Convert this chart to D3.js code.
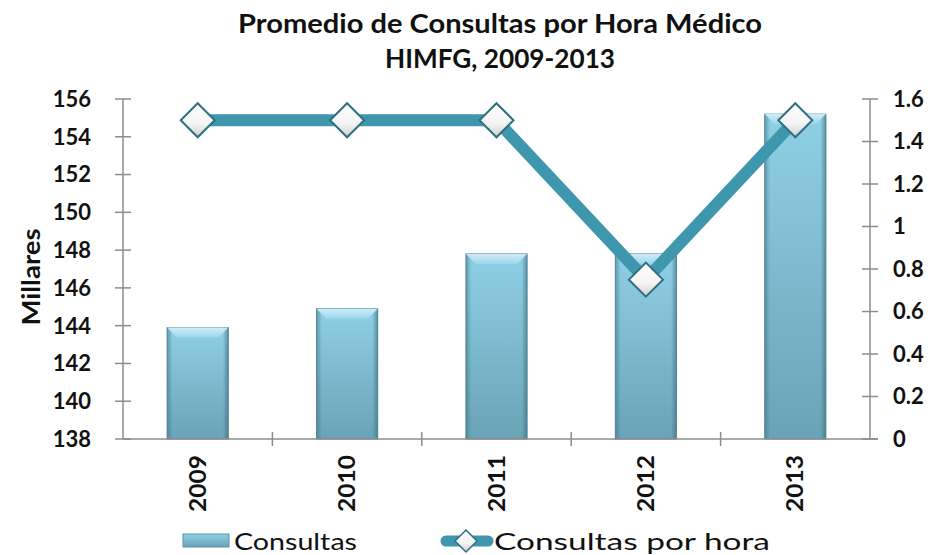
<!DOCTYPE html>
<html><head><meta charset="utf-8">
<script src="https://cdn.jsdelivr.net/npm/d3@7"></script>
<style>body{margin:0;background:#fff}svg{display:block}</style>
</head><body>
<svg id="c" width="937" height="555"></svg>
<script>
const categories = ["2009","2010","2011","2012","2013"];
const consultas = [143.9, 144.9, 147.8, 147.8, 155.2];
const porHora = [1.5, 1.5, 1.5, 0.75, 1.5];
const leftTicks = [138,140,142,144,146,148,150,152,154,156];
const rightTicks = [0,0.2,0.4,0.6,0.8,1,1.2,1.4,1.6];
const titleLines = ["Promedio de Consultas por Hora Médico","HIMFG, 2009-2013"];
const legendLabels = ["Consultas","Consultas por hora"];

const svg = d3.select("#c");
const FONT = "Lato, 'DejaVu Sans', sans-serif";
const L = 123, R = 870, T = 99, B = 439;
const x = d3.scaleBand().domain(categories).range([L, R]).paddingInner(0.59).paddingOuter(0.295);
const xb = d3.scaleBand().domain(categories).range([L, R]);
const yL = d3.scaleLinear().domain([138,156]).range([B, T]);
const yR = d3.scaleLinear().domain([0,1.6]).range([B, T]);

const defs = svg.append("defs");
const g1 = defs.append("linearGradient").attr("id","barG").attr("x1",0).attr("y1",0).attr("x2",0).attr("y2",1);
g1.append("stop").attr("offset","0%").attr("stop-color","#8fd0e6");
g1.append("stop").attr("offset","100%").attr("stop-color","#6aa3b6");
const g2 = defs.append("linearGradient").attr("id","edgeG").attr("x1",0).attr("y1",0).attr("x2",1).attr("y2",0);
g2.append("stop").attr("offset","0%").attr("stop-color","#3f6f80").attr("stop-opacity",0.55);
g2.append("stop").attr("offset","9%").attr("stop-color","#3f6f80").attr("stop-opacity",0);
g2.append("stop").attr("offset","91%").attr("stop-color","#3f6f80").attr("stop-opacity",0);
g2.append("stop").attr("offset","100%").attr("stop-color","#3f6f80").attr("stop-opacity",0.65);
const g3 = defs.append("linearGradient").attr("id","topG").attr("x1",0).attr("y1",0).attr("x2",0).attr("y2",1);
g3.append("stop").attr("offset","0%").attr("stop-color","#d8f1fa");
g3.append("stop").attr("offset","100%").attr("stop-color","#9ad8ec");
const g4 = defs.append("linearGradient").attr("id","mkG").attr("x1",0).attr("y1",0).attr("x2",0).attr("y2",1);
g4.append("stop").attr("offset","0%").attr("stop-color","#ffffff");
g4.append("stop").attr("offset","60%").attr("stop-color","#f4f4f4");
g4.append("stop").attr("offset","100%").attr("stop-color","#cfcfcf");

// title
const titleW = [524, 230];
svg.selectAll("text.title").data(titleLines).join("text").attr("class","title")
  .attr("x", 500).attr("y",(d,i)=>33+i*35).attr("text-anchor","middle")
  .attr("font-family",FONT).attr("font-weight","bold").attr("font-size",27).attr("fill","#111")
  .attr("textLength",(d,i)=>titleW[i]).attr("lengthAdjust","spacingAndGlyphs")
  .text(d=>d);

// bars
const bw = x.bandwidth();
const bars = svg.append("g").selectAll("g").data(categories).join("g");
bars.append("rect").attr("x",d=>x(d)).attr("width",bw)
  .attr("y",(d,i)=>yL(consultas[i])).attr("height",(d,i)=>B-yL(consultas[i]))
  .attr("fill","url(#barG)").attr("stroke","#5f93a4").attr("stroke-width",1);
bars.append("rect").attr("x",d=>x(d)).attr("width",bw)
  .attr("y",(d,i)=>yL(consultas[i])).attr("height",(d,i)=>B-yL(consultas[i]))
  .attr("fill","url(#edgeG)");
bars.append("path").attr("d",(d,i)=>{
  const x0=x(d), x1=x(d)+bw, y0=yL(consultas[i]), h=10;
  return `M${x0},${y0}L${x1},${y0}L${x1-h},${y0+h}L${x0+h},${y0+h}Z`;
}).attr("fill","url(#topG)").attr("opacity",0.9);

// axes
const axG = svg.append("g").attr("stroke","#8c8c8c").attr("stroke-width",1.5);
axG.append("line").attr("x1",L).attr("x2",L).attr("y1",T).attr("y2",B);
axG.append("line").attr("x1",R).attr("x2",R).attr("y1",T).attr("y2",B);
axG.append("line").attr("x1",L).attr("x2",R+8).attr("y1",B).attr("y2",B);
axG.selectAll("line.lt").data(leftTicks).join("line").attr("class","lt")
  .attr("x1",L-8).attr("x2",L+8).attr("y1",d=>yL(d)).attr("y2",d=>yL(d));
axG.selectAll("line.rt").data(rightTicks).join("line").attr("class","rt")
  .attr("x1",R-8).attr("x2",R+8).attr("y1",d=>yR(d)).attr("y2",d=>yR(d));
axG.selectAll("line.bt").data(categories.slice(1)).join("line").attr("class","bt")
  .attr("x1",d=>xb(d)).attr("x2",d=>xb(d)).attr("y1",B-7).attr("y2",B+7);

svg.append("g").selectAll("text").data(leftTicks).join("text")
  .attr("x",91).attr("y",d=>yL(d)).attr("dy","0.36em").attr("text-anchor","end")
  .attr("font-family",FONT).attr("font-weight","bold").attr("font-size",22).attr("fill","#111")
  .text(d=>d);
svg.append("g").selectAll("text").data(rightTicks).join("text")
  .attr("x",893).attr("y",d=>yR(d)).attr("dy","0.36em").attr("text-anchor","start")
  .attr("font-family",FONT).attr("font-weight","bold").attr("font-size",22).attr("fill","#111")
  .text(d=>d);
svg.append("g").selectAll("text").data(categories).join("text")
  .attr("transform",d=>`translate(${xb(d)+xb.bandwidth()/2+8},455) rotate(-90)`)
  .attr("text-anchor","end")
  .attr("font-family",FONT).attr("font-weight","bold").attr("font-size",22).attr("fill","#111")
  .attr("textLength",57).attr("lengthAdjust","spacingAndGlyphs")
  .text(d=>d);
svg.append("text").attr("transform","translate(40,277) rotate(-90)").attr("text-anchor","middle")
  .attr("font-family",FONT).attr("font-weight","bold").attr("font-size",24).attr("fill","#111")
  .attr("textLength",97).attr("lengthAdjust","spacingAndGlyphs")
  .text("Millares");

// line
const cx = d => xb(d)+xb.bandwidth()/2;
const line = d3.line().x((d,i)=>cx(categories[i])).y(d=>yR(d));
svg.append("path").datum(porHora).attr("d",line).attr("fill","none")
  .attr("stroke","#3f97ae").attr("stroke-width",12).attr("stroke-linejoin","miter");
const diamond = (s)=>`M0,${-s}L${s},0L0,${s}L${-s},0Z`;
svg.append("g").selectAll("path").data(porHora).join("path")
  .attr("transform",(d,i)=>`translate(${cx(categories[i])},${yR(d)})`)
  .attr("d",diamond(17)).attr("fill","url(#mkG)").attr("stroke","#2f6f80").attr("stroke-width",2);

// legend
const lg = svg.append("g");
lg.append("rect").attr("x",183).attr("y",534).attr("width",46).attr("height",13)
  .attr("fill","url(#barG)").attr("stroke","#5f93a4");
lg.append("text").attr("x",234).attr("y",550).attr("font-family",FONT).attr("font-size",24).attr("fill","#111")
  .attr("textLength",123).attr("lengthAdjust","spacingAndGlyphs").text(legendLabels[0]);
lg.append("line").attr("x1",446).attr("x2",488).attr("y1",541).attr("y2",541)
  .attr("stroke","#3f97ae").attr("stroke-width",11).attr("stroke-linecap","round");
lg.append("path").attr("transform","translate(466,541)").attr("d",diamond(11))
  .attr("fill","url(#mkG)").attr("stroke","#2f6f80").attr("stroke-width",1.5);
lg.append("text").attr("x",494).attr("y",550).attr("font-family",FONT).attr("font-size",24).attr("fill","#111")
  .attr("textLength",276).attr("lengthAdjust","spacingAndGlyphs").text(legendLabels[1]);
</script>
</body></html>
